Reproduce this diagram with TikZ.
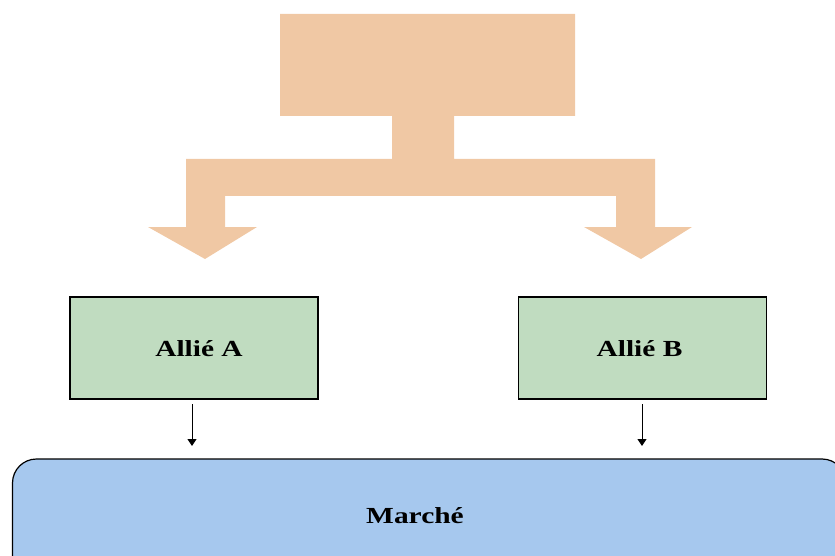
\documentclass[tikz,border=0pt]{standalone}
\usepackage{fontspec}
\setmainfont{Liberation Serif}
\usetikzlibrary{arrows.meta}
\definecolor{peach}{RGB}{240,200,164}
\definecolor{allygreen}{RGB}{192,220,192}
\definecolor{marketblue}{RGB}{166,200,238}
\tikzset{
  allybox/.style={draw=black, line width=1.2pt, fill=allygreen, minimum width=248pt, minimum height=102pt, inner sep=0pt},
  marketbox/.style={draw=black, line width=1.2pt, fill=marketblue, rounded corners=24pt},
  lbl/.style={font=\fontsize{23}{27}\selectfont\bfseries},
  flow/.style={-{Triangle[length=7pt,width=9pt]}, line width=1pt, black}
}
\newcommand{\widetext}[1]{\scalebox{1.28}[1]{#1}}
\begin{document}
\begin{tikzpicture}[x=1pt,y=-1pt]
\useasboundingbox (0,0) rectangle (835,556);
\clip (0,0) rectangle (835,556);
% big split arrow
\fill[peach] (280,14) -- (575,14) -- (575,116) -- (454,116) -- (454,159)
  -- (655,159) -- (655,227) -- (692,227) -- (641,259) -- (584,227) -- (616,227)
  -- (616,196) -- (225,196) -- (225,227) -- (257,227) -- (205,259) -- (148,227)
  -- (186,227) -- (186,159) -- (392,159) -- (392,116) -- (280,116) -- cycle;
% allies
\node[allybox] (A) at (194,348) {};
\node[lbl] (At) at (199,349) {\widetext{Allié A}};
\node[allybox] (B) at (642.5,348) {};
\node[lbl] (Bt) at (639.5,349) {\widetext{Allié B}};
% market
\draw[marketbox] (12.5,459) rectangle (846,600);
\node[lbl] (M) at (415,516) {\widetext{Marché}};
\coordinate (a1) at (192,404);
\coordinate (a2) at (192,446);
\coordinate (b1) at (642,404);
\coordinate (b2) at (642,446);
\draw[flow] (a1) -- (a2);
\draw[flow] (b1) -- (b2);
\end{tikzpicture}
\end{document}
